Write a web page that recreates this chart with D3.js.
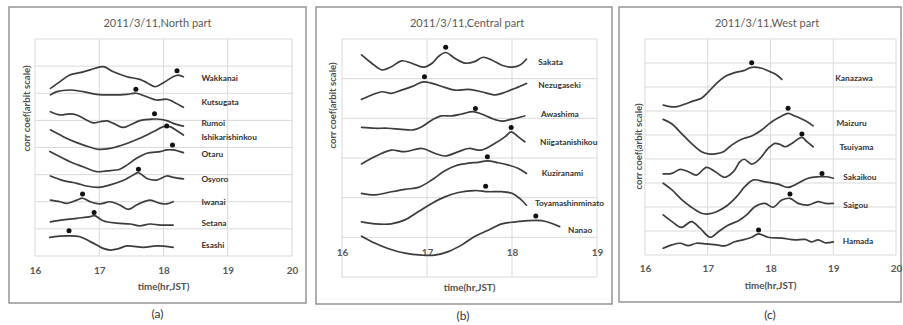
<!DOCTYPE html>
<html>
<head>
<meta charset="utf-8">
<script src="https://cdn.jsdelivr.net/npm/d3@7"></script>
<style>
  html, body { margin: 0; padding: 0; background: #fff; }
  svg { display: block; font-family: Lato, "Open Sans", sans-serif; }
</style>
</head>
<body>
<svg id="chart" width="903" height="325"></svg>
<script>
// Each trace: [time (hr, JST), correlation coefficient on an arbitrary offset scale]

// ---------- (a) North part ----------
const northStations = ["Wakkanai", "Kutsugata", "Rumoi", "Ishikarishinkou", "Otaru", "Osyoro", "Iwanai", "Setana", "Esashi"];
const wakkanai = [[16.24,6.18],[16.39,6.43],[16.54,6.67],[16.70,6.76],[16.86,6.86],[17.06,6.98],[17.22,6.79],[17.43,6.61],[17.63,6.51],[17.74,6.39],[17.87,6.24],[18.00,6.39],[18.15,6.61],[18.23,6.67],[18.31,6.61]];
const kutsugata = [[16.24,5.94],[16.34,6.06],[16.54,6.12],[16.75,6.06],[16.96,5.96],[17.22,5.94],[17.43,5.96],[17.58,6.00],[17.74,5.87],[17.89,5.75],[18.05,5.78],[18.15,5.69],[18.31,5.48]];
const rumoi = [[16.24,5.32],[16.39,5.20],[16.54,5.24],[16.65,5.20],[16.75,5.08],[16.91,4.91],[17.01,4.95],[17.12,4.98],[17.22,4.89],[17.37,4.74],[17.48,4.83],[17.63,4.99],[17.79,5.04],[17.89,5.05],[18.05,4.99],[18.15,4.89],[18.31,4.79]];
const ishikarishinkou = [[16.24,4.65],[16.44,4.40],[16.65,4.18],[16.86,4.01],[16.99,3.93],[17.17,3.97],[17.43,4.15],[17.63,4.34],[17.84,4.58],[18.00,4.77],[18.10,4.77],[18.21,4.62],[18.31,4.46]];
const otaru = [[16.23,3.85],[16.39,3.66],[16.60,3.42],[16.75,3.29],[16.96,3.11],[17.12,3.14],[17.32,3.20],[17.43,3.35],[17.58,3.60],[17.74,3.79],[17.95,3.85],[18.05,3.91],[18.15,3.91],[18.31,3.81]];
const osyoro = [[16.24,2.95],[16.44,2.78],[16.65,2.68],[16.80,2.58],[16.99,2.53],[17.17,2.62],[17.37,2.78],[17.53,2.99],[17.61,3.07],[17.74,2.86],[17.89,2.80],[18.05,2.95],[18.15,2.90],[18.31,2.84]];
const iwanai = [[16.24,2.06],[16.39,2.00],[16.49,1.94],[16.65,2.06],[16.74,2.13],[16.86,2.00],[17.01,1.92],[17.17,2.00],[17.32,1.88],[17.45,1.72],[17.58,1.88],[17.63,1.94],[17.79,2.06],[17.95,1.94],[18.05,1.92],[18.15,2.00]];
const setana = [[16.24,1.26],[16.44,1.33],[16.65,1.39],[16.86,1.45],[16.93,1.49],[17.06,1.30],[17.27,1.21],[17.48,1.18],[17.63,1.11],[17.79,1.18],[17.95,1.14],[18.15,1.14]];
const esashi = [[16.23,0.69],[16.49,0.74],[16.70,0.71],[16.86,0.53],[16.96,0.41],[17.06,0.28],[17.17,0.22],[17.29,0.26],[17.43,0.37],[17.69,0.32],[17.89,0.37],[18.15,0.32]];
const northPeaks = [[18.21,6.83],[17.57,6.15],[17.86,5.24],[18.05,4.79],[18.14,4.09],[17.61,3.20],[16.74,2.29],[16.92,1.60],[16.53,0.93]];
const northTicks = [16, 17, 18, 19, 20];

// ---------- (b) Central part ----------
const centralStations = ["Sakata", "Nezugaseki", "Awashima", "Niigatanishikou", "Kuziranami", "Toyamashinminato", "Nanao"];
const sakata = [[16.23,5.60],[16.35,5.39],[16.47,5.22],[16.58,5.30],[16.70,5.45],[16.82,5.39],[16.96,5.29],[17.06,5.39],[17.13,5.55],[17.22,5.66],[17.33,5.51],[17.45,5.39],[17.56,5.43],[17.66,5.54],[17.76,5.47],[17.88,5.34],[18.00,5.29],[18.09,5.34],[18.17,5.49]];
const nezugaseki = [[16.23,4.48],[16.35,4.59],[16.47,4.67],[16.58,4.63],[16.70,4.71],[16.82,4.80],[16.96,4.92],[17.06,4.88],[17.21,4.78],[17.33,4.71],[17.49,4.73],[17.64,4.67],[17.80,4.59],[17.88,4.63],[18.04,4.76],[18.17,4.88]];
const awashima = [[16.23,3.77],[16.39,3.75],[16.54,3.75],[16.70,3.72],[16.84,3.71],[16.94,3.79],[17.06,3.96],[17.17,4.06],[17.29,4.06],[17.41,4.11],[17.54,4.17],[17.64,4.11],[17.76,4.00],[17.88,3.93],[18.00,3.98],[18.15,4.06]];
const niigatanishikou = [[16.23,2.85],[16.31,2.95],[16.47,3.12],[16.58,3.20],[16.74,3.16],[16.94,3.24],[17.09,3.12],[17.21,3.05],[17.37,3.16],[17.49,3.24],[17.64,3.20],[17.80,3.37],[17.92,3.54],[17.99,3.66],[18.07,3.54],[18.15,3.41]];
const kuziranami = [[16.23,2.11],[16.39,2.07],[16.54,2.13],[16.74,2.21],[16.90,2.26],[17.06,2.45],[17.21,2.68],[17.33,2.80],[17.49,2.87],[17.60,2.89],[17.71,2.93],[17.84,2.88],[17.96,2.82],[18.07,2.74],[18.17,2.61]];
const toyamashinminato = [[16.23,1.39],[16.39,1.34],[16.58,1.34],[16.74,1.44],[16.90,1.65],[17.06,1.86],[17.21,2.02],[17.37,2.13],[17.56,2.18],[17.72,2.15],[17.88,2.15],[18.00,2.11],[18.09,1.98],[18.17,1.81]];
const nanao = [[16.23,1.03],[16.39,0.85],[16.54,0.72],[16.74,0.60],[16.94,0.55],[17.09,0.55],[17.25,0.64],[17.41,0.81],[17.56,1.02],[17.72,1.18],[17.88,1.34],[18.04,1.39],[18.19,1.42],[18.35,1.42],[18.47,1.35],[18.56,1.27]];
const centralPeaks = [[17.22,5.79],[16.97,5.05],[17.57,4.25],[17.99,3.77],[17.71,3.03],[17.69,2.29],[18.28,1.54]];
const centralTicks = [16, 17, 18, 19];

// ---------- (c) West part ----------
const westStations = ["Kanazawa", "Maizuru", " Tsuiyama", "Sakaikou", "Saigou", "Hamada"];
const kanazawa = [[16.29,6.25],[16.40,6.18],[16.51,6.18],[16.64,6.29],[16.77,6.42],[16.90,6.53],[17.01,6.80],[17.14,7.15],[17.27,7.43],[17.43,7.60],[17.57,7.68],[17.70,7.82],[17.86,7.78],[17.99,7.64],[18.10,7.50],[18.18,7.32]];
const maizuru = [[16.29,5.65],[16.43,5.46],[16.58,5.07],[16.74,4.65],[16.90,4.30],[17.01,4.21],[17.12,4.21],[17.25,4.30],[17.38,4.58],[17.54,4.82],[17.70,4.96],[17.86,5.21],[18.02,5.55],[18.18,5.79],[18.28,5.90],[18.39,5.79],[18.55,5.60],[18.68,5.38]];
const tsuiyama = [[16.29,3.38],[16.43,3.40],[16.56,3.57],[16.69,3.47],[16.82,3.33],[16.98,3.65],[17.12,3.47],[17.27,3.24],[17.41,3.47],[17.51,3.88],[17.58,3.99],[17.70,3.79],[17.78,3.89],[17.86,4.10],[17.94,4.38],[17.99,4.51],[18.07,4.65],[18.15,4.61],[18.23,4.51],[18.34,4.65],[18.50,4.90],[18.58,4.72],[18.68,4.51]];
const sakaikou = [[16.29,2.99],[16.43,2.71],[16.58,2.32],[16.74,1.99],[16.90,1.74],[17.01,1.71],[17.14,1.80],[17.30,2.04],[17.46,2.43],[17.59,2.85],[17.73,3.13],[17.91,3.05],[18.12,2.95],[18.28,2.82],[18.44,2.99],[18.60,3.20],[18.76,3.26],[18.90,3.26],[19.00,3.20]];
const saigou = [[16.29,1.67],[16.43,1.39],[16.58,1.15],[16.74,1.39],[16.88,1.11],[17.04,0.74],[17.17,0.97],[17.33,1.25],[17.49,1.43],[17.62,1.67],[17.75,2.01],[17.91,2.15],[18.04,1.99],[18.18,2.29],[18.31,2.36],[18.44,2.15],[18.60,2.08],[18.76,2.22],[18.87,2.15],[19.00,2.15]];
const hamada = [[16.29,0.28],[16.43,0.42],[16.56,0.49],[16.69,0.39],[16.82,0.49],[16.98,0.46],[17.14,0.42],[17.27,0.38],[17.43,0.55],[17.59,0.65],[17.70,0.74],[17.81,0.88],[17.96,0.74],[18.18,0.70],[18.39,0.63],[18.55,0.65],[18.66,0.55],[18.76,0.63],[18.87,0.51],[19.00,0.55]];
const westPeaks = [[17.70,8.01],[18.28,6.11],[18.50,5.04],[18.82,3.40],[18.31,2.54],[17.81,1.04]];
const westTicks = [16, 17, 18, 19, 20];

// ---------- layout ----------
const svg = d3.select("#chart");
const ink = "#3c3c3c";

const panels = [
  {
    frame: { x0: 9, y0: 7, x1: 306, y1: 303 },
    plot: { left: 35, right: 292, top: 39, bottom: 256 },
    xDomain: [16, 20], yDomain: [0, 8], ticks: northTicks, axisAt: 0, tickOffset: 14,
    title: "2011/3/11,North part", titleX: 157.5,
    yTitle: { x: 27, y: 108.5 }, xTitleY: 287, caption: "(a)", captionX: 157.5, captionY: 314,
    series: [wakkanai, kutsugata, rumoi, ishikarishinkou, otaru, osyoro, iwanai, setana, esashi],
    names: northStations, peaks: northPeaks,
    labelAt: [[18.59,6.57],[18.59,5.69],[18.59,4.91],[18.59,4.38],[18.59,3.76],[18.59,2.84],[18.59,1.98],[18.59,1.21],[18.59,0.41]]
  },
  {
    frame: { x0: 316, y0: 7, x1: 612, y1: 304 },
    plot: { left: 342, right: 597, top: 39, bottom: 277 },
    xDomain: [16, 19], yDomain: [0, 6], ticks: centralTicks, axisAt: 1, tickOffset: 15,
    title: "2011/3/11,Central part", titleX: 467,
    yTitle: { x: 333, y: 105.5 }, xTitleY: 288, caption: "(b)", captionX: 463, captionY: 316,
    series: [sakata, nezugaseki, awashima, niigatanishikou, kuziranami, toyamashinminato, nanao],
    names: centralStations, peaks: centralPeaks,
    labelAt: [[18.31,5.43],[18.31,4.84],[18.34,4.11],[18.33,3.41],[18.35,2.63],[18.27,1.86],[18.66,1.18]]
  },
  {
    frame: { x0: 619, y0: 7, x1: 901, y1: 302 },
    plot: { left: 645, right: 896, top: 39, bottom: 255 },
    xDomain: [16, 20], yDomain: [0, 9], ticks: westTicks, axisAt: 0, tickOffset: 13,
    title: "2011/3/11,West part", titleX: 767,
    yTitle: { x: 639, y: 146.5 }, xTitleY: 286, caption: "(c)", captionX: 770, captionY: 315,
    series: [kanazawa, maizuru, tsuiyama, sakaikou, saigou, hamada],
    names: westStations, peaks: westPeaks,
    labelAt: [[19.03,7.36],[19.05,5.51],[19.07,4.51],[19.16,3.24],[19.16,2.08],[19.15,0.60]]
  }
];

panels.forEach(drawPanel);

function drawPanel(p) {
  const g = svg.append("g");

  g.append("rect")
    .attr("x", p.frame.x0).attr("y", p.frame.y0)
    .attr("width", p.frame.x1 - p.frame.x0).attr("height", p.frame.y1 - p.frame.y0)
    .attr("fill", "#fff").attr("stroke", "#8e8e8e").attr("stroke-width", 1.4);

  const x = d3.scaleLinear().domain(p.xDomain).range([p.plot.left, p.plot.right]);
  const y = d3.scaleLinear().domain(p.yDomain).range([p.plot.bottom, p.plot.top]);

  // grid
  const grid = g.append("g").attr("stroke", "#d9d9d9").attr("stroke-width", 1);
  grid.selectAll("line.v").data(d3.range(p.xDomain[0], p.xDomain[1] + 1)).join("line")
    .attr("class", "v")
    .attr("x1", d => x(d)).attr("x2", d => x(d))
    .attr("y1", y(p.yDomain[0])).attr("y2", y(p.yDomain[1]));
  grid.selectAll("line.h").data(d3.range(p.yDomain[0], p.yDomain[1] + 1)).join("line")
    .attr("class", "h")
    .attr("x1", x(p.xDomain[0])).attr("x2", x(p.xDomain[1]))
    .attr("y1", d => y(d)).attr("y2", d => y(d));

  // time axis labels
  const axis = d3.axisBottom(x).tickValues(p.ticks).tickSize(0).tickFormat(d3.format("d"));
  const ax = g.append("g").attr("transform", `translate(0,${y(p.axisAt)})`).call(axis);
  ax.select(".domain").remove();
  ax.selectAll("text")
    .attr("y", p.tickOffset).attr("dy", "0.35em")
    .attr("fill", "#595959").attr("font-size", 10).attr("font-weight", 700)
    .attr("font-family", "Lato, sans-serif");

  // titles
  g.append("text").attr("x", p.titleX).attr("y", 23).attr("dy", "0.35em")
    .attr("text-anchor", "middle").attr("font-size", 11).attr("fill", "#595959")
    .text(p.title);
  g.append("text").attr("x", (p.plot.left + p.plot.right) / 2).attr("y", p.xTitleY).attr("dy", "0.35em")
    .attr("text-anchor", "middle").attr("font-size", 9.8).attr("font-weight", 700).attr("fill", "#505050")
    .text("time(hr,JST)");
  g.append("text")
    .attr("transform", `translate(${p.yTitle.x},${p.yTitle.y}) rotate(-90)`)
    .attr("dy", "0.35em").attr("text-anchor", "middle")
    .attr("font-size", 9.6).attr("font-weight", 700).attr("fill", "#505050")
    .text("corr coef(arbit scale)");
  g.append("text").attr("x", p.captionX).attr("y", p.captionY).attr("dy", "0.35em")
    .attr("text-anchor", "middle").attr("font-size", 12).attr("fill", "#333")
    .text(p.caption);

  // traces
  const line = d3.line()
    .x(d => x(d[0])).y(d => y(d[1]))
    .curve(d3.curveCatmullRom.alpha(0.5));
  g.append("g").selectAll("path").data(p.series).join("path")
    .attr("d", line).attr("fill", "none")
    .attr("stroke", ink).attr("stroke-width", 1.7)
    .attr("stroke-linejoin", "round").attr("stroke-linecap", "round");

  // peak markers
  g.append("g").selectAll("circle").data(p.peaks).join("circle")
    .attr("cx", d => x(d[0])).attr("cy", d => y(d[1])).attr("r", 2.5)
    .attr("fill", "#111");

  // station names
  g.append("g").selectAll("text").data(p.names).join("text")
    .attr("x", (d, i) => x(p.labelAt[i][0]))
    .attr("y", (d, i) => y(p.labelAt[i][1]))
    .attr("dy", "0.35em")
    .attr("font-size", 8.3).attr("font-weight", 700).attr("fill", "#333")
    .attr("xml:space", "preserve")
    .text(d => d);
}
</script>
</body>
</html>
